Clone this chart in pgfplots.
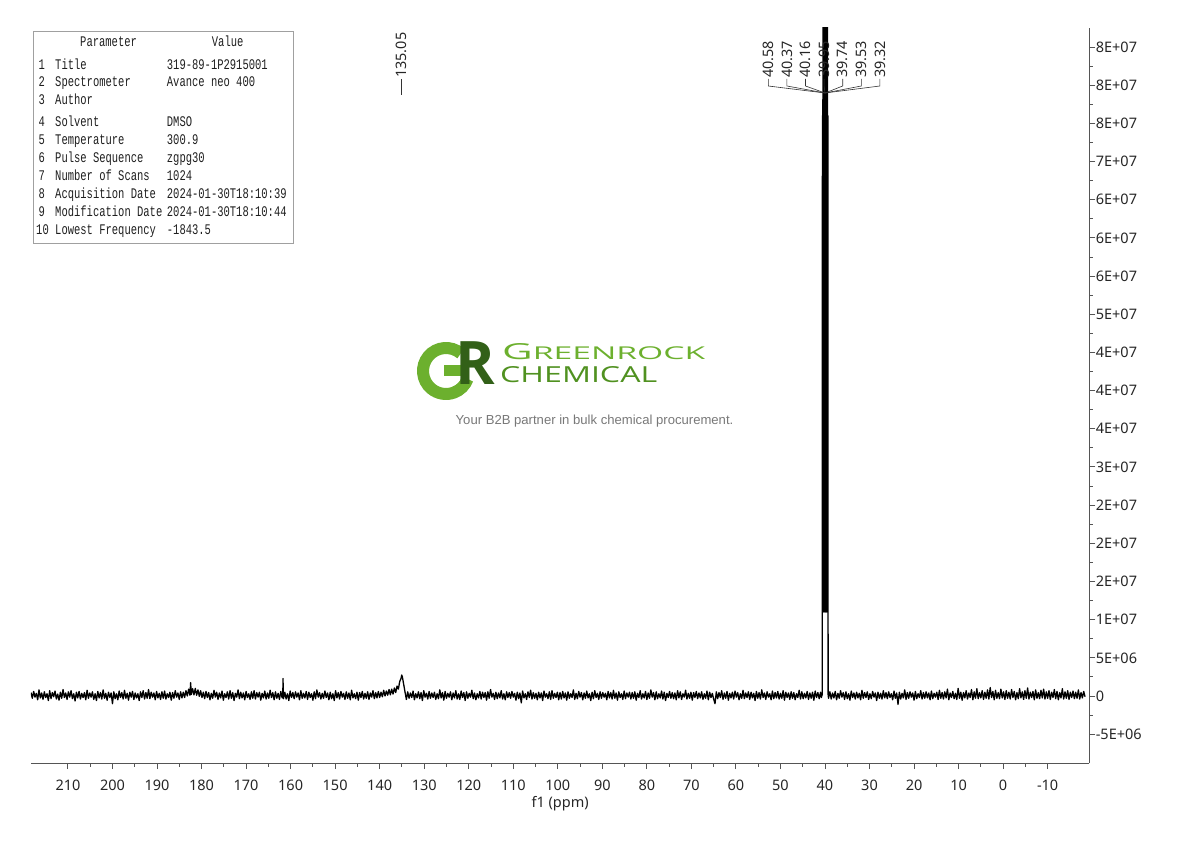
\documentclass[border=0pt]{standalone}
\usepackage{fontspec}
\setmainfont{Noto Sans}
\newfontfamily\tabfont{Liberation Mono}
\newfontfamily\logofont{Open Sans}
\newfontfamily\tagfont{Liberation Sans}
\usepackage{graphicx}
\usepackage{pgfplots}
\pgfplotsset{compat=1.18}
\definecolor{axgray}{RGB}{85,85,85}
\definecolor{boxgray}{RGB}{160,160,160}
\definecolor{txtgray}{RGB}{30,30,30}
\definecolor{grlight}{RGB}{108,176,46}
\definecolor{grmid}{RGB}{80,145,32}
\definecolor{grdark}{RGB}{50,96,24}
\definecolor{taggray}{RGB}{120,120,120}
\newcommand\tb[1]{\scalebox{1}[1.4]{\tabfont\fontsize{10.5}{12}\selectfont #1}}
\newcommand\lab{\fontsize{14.4}{16}\selectfont}
\begin{document}
\begin{tikzpicture}
\path[use as bounding box] (0,0) rectangle (1190pt,841pt);
\begin{axis}[
  at={(31pt,78pt)}, anchor=south west,
  scale only axis, width=1058.3pt, height=735pt,
  x dir=reverse,
  xmin=-19.35, xmax=218.3,
  ymin=-8.775, ymax=87.49,
  axis x line=bottom, axis y line=right,
  axis line style={-, axgray, line width=1pt},
  tick align=outside,
  major tick length=6pt, minor tick length=3.5pt,
  tick style={axgray, line width=0.9pt},
  minor x tick num=1, minor y tick num=1,
  xtick={-10,0,10,...,210},
  xticklabels={-10,0,10,20,30,40,50,60,70,80,90,100,110,120,130,140,150,160,170,180,190,200,210},
  ytick={-5,0,5,...,85},
  yticklabels={-5E+06,0,5E+06,1E+07,2E+07,2E+07,2E+07,3E+07,4E+07,4E+07,4E+07,5E+07,6E+07,6E+07,6E+07,7E+07,8E+07,8E+07,8E+07},
  xticklabel style={font=\fontsize{14.5}{16}\selectfont, text=black!85, yshift=-7pt},
  yticklabel style={font=\fontsize{14.5}{16}\selectfont, text=black!85, xshift=-3pt},
  xlabel={f1 (ppm)},
  xlabel style={font=\fontsize{14.5}{16}\selectfont, text=black!85, yshift=1pt},
  clip=true,
]
\addplot[black, line width=1.3pt, line join=round] coordinates {
(218.3,.45)(218,-.3)(217.7,.6)(217.4,-.15)(217.1,.35)(216.8,-.5)(216.5,.8)(216.2,-.25)(215.9,.4)(215.6,-.45)
(215.3,.55)(215,-.2)(214.7,.3)(214.4,-.6)(214.1,.7)(213.8,-.35)(213.5,.45)(213.2,-.1)(212.9,.65)(212.6,-.4)
(212.3,.25)(212,-.55)(211.7,.5)(211.4,-.3)(211.1,.85)(210.8,-.2)(210.5,.4)(210.2,-.45)(209.9,.55)(209.6,-.15)
(209.3,.7)(209,-.35)(208.7,.3)(208.4,-.65)(208.1,.5)(207.8,-.25)(207.5,.6)(207.2,-.4)(206.9,.35)(206.6,-.2)
(206.3,.45)(206,-.5)(205.7,.75)(205.4,-.3)(205.1,.4)(204.8,-.15)(204.5,.55)(204.2,-.45)(203.9,.3)(203.6,-.6)
(203.3,.6)(203,-.25)(202.7,.45)(202.4,-.4)(202.1,.8)(201.8,-.3)(201.5,.35)(201.2,-.55)(200.9,.5)(200.6,-.2)
(200.3,.4)(200,-1.0)(199.7,.55)(199.4,-.35)(199.1,.3)(198.8,-.5)(198.5,.65)(198.2,-.2)(197.9,.45)(197.6,-.4)
(197.3,.75)(197,-.3)(196.7,.35)(196.4,-.55)(196.1,.5)(195.8,-.15)(195.5,.6)(195.2,-.45)(194.9,.4)(194.6,-.25)
(194.3,.3)(194,-.6)(193.7,.55)(193.4,-.2)(193.1,.7)(192.8,-.4)(192.5,.45)(192.2,-.3)(191.9,.85)(191.6,-.35)
(191.3,.5)(191,-.15)(190.7,.4)(190.4,-.5)(190.1,.6)(189.8,-.25)(189.5,.35)(189.2,-.45)(188.9,.55)(188.6,-.3)
(188.3,.65)(188,-.4)(187.7,.3)(187.4,-.2)(187.1,.5)(186.8,-.55)(186.5,.45)(186.2,-.3)(185.9,.7)(185.6,-.15)
(185.3,.4)(185,-.45)(184.7,.55)(184.4,-.25)(184.1,.5)(183.8,-.2)(183.5,.7)(183.2,0)(182.9,.9)(182.6,.1)
(182.45,1.75)(182.3,.2)(182,.95)(181.7,.15)(181.4,1.0)(181.1,.1)(180.8,.8)(180.5,-.05)(180.2,.7)(179.9,-.2)(179.6,.5)
(179.3,-.35)(179,.6)(178.7,-.2)(178.4,.45)(178.1,-.5)(177.8,.35)(177.5,-.3)(177.2,.75)(176.9,-.15)(176.6,.5)
(176.3,-.45)(176,.4)(175.7,-.25)(175.4,.65)(175.1,-.55)(174.8,.3)(174.5,-.2)(174.2,.55)(173.9,-.4)(173.6,.7)
(173.3,-.3)(173,.45)(172.7,-.6)(172.4,.35)(172.1,-.15)(171.8,.8)(171.5,-.35)(171.2,.5)(170.9,-.25)(170.6,.4)
(170.3,-.5)(170,.6)(169.7,-.2)(169.4,.3)(169.1,-.45)(168.8,.55)(168.5,-.3)(168.2,.7)(167.9,-.4)(167.6,.45)
(167.3,-.15)(167,.5)(166.7,-.55)(166.4,.35)(166.1,-.25)(165.8,.65)(165.5,-.4)(165.2,.4)(164.9,-.3)(164.6,.75)
(164.3,-.2)(164,.45)(163.7,-.5)(163.4,.55)(163.1,-.3)(162.8,.35)(162.5,-.45)(162.2,.6)(161.9,-.25)(161.75,.3)(161.7,2.3)(161.65,.2)(161.6,-.35)
(161.3,.5)(161,-.4)(160.7,.3)(160.4,-.6)(160.1,.65)(159.8,-.2)(159.5,.45)(159.2,-.35)(158.9,.55)(158.6,-.15)
(158.3,.4)(158,-.5)(157.7,.7)(157.4,-.3)(157.1,.35)(156.8,-.25)(156.5,.6)(156.2,-.45)(155.9,.5)(155.6,-.2)
(155.3,.3)(155,-.55)(154.7,.55)(154.4,-.35)(154.1,.8)(153.8,-.15)(153.5,.45)(153.2,-.4)(152.9,.35)(152.6,-.3)
(152.3,.65)(152,-.2)(151.7,.4)(151.4,-.5)(151.1,.5)(150.8,-.35)(150.5,.3)(150.2,-.6)(149.9,.7)(149.6,-.25)
(149.3,.45)(149,-.4)(148.7,.6)(148.4,-.15)(148.1,.35)(147.8,-.45)(147.5,.55)(147.2,-.3)(146.9,.4)(146.6,-.5)
(146.3,.75)(146,-.25)(145.7,.3)(145.4,-.35)(145.1,.5)(144.8,-.55)(144.5,.45)(144.2,-.2)(143.9,.6)(143.6,-.4)
(143.3,.35)(143,-.3)(142.7,.55)(142.4,-.45)(142.1,.4)(141.8,-.15)(141.5,.7)(141.2,-.35)(140.9,.45)(140.6,-.25)
(140.3,.6)(140,-.2)(139.7,.5)(139.4,-.1)(139.1,.75)(138.8,0)(138.5,.65)(138.2,.1)(137.9,.85)(137.6,.15)
(137.3,.9)(137,.25)(136.7,1.05)(136.4,.45)(136.1,1.3)(135.8,.9)(135.5,1.9)(135.2,2.3)(135.05,2.75)(134.9,2.5)(134.6,1.5)
(134.3,.5)(134,-.45)(133.7,.55)(133.4,-.3)(133.1,.4)(132.8,-.2)(132.5,.65)(132.2,-.5)(131.9,.3)(131.6,-.25)
(131.3,.55)(131,-.35)(130.7,.45)(130.4,-.6)(130.1,.7)(129.8,-.15)(129.5,.35)(129.2,-.4)(128.9,.6)(128.6,-.3)
(128.3,.4)(128,-.2)(127.7,.5)(127.4,-.45)(127.1,.3)(126.8,-.35)(126.5,.8)(126.2,-.25)(125.9,.45)(125.6,-.55)
(125.3,.6)(125,-.3)(124.7,.35)(124.4,-.15)(124.1,.55)(123.8,-.5)(123.5,.4)(123.2,-.25)(122.9,.7)(122.6,-.4)
(122.3,.3)(122,-.45)(121.7,.65)(121.4,-.2)(121.1,.45)(120.8,-.6)(120.5,.55)(120.2,-.3)(119.9,.35)(119.6,-.15)
(119.3,.75)(119,-.35)(118.7,.4)(118.4,-.5)(118.1,.3)(117.8,-.25)(117.5,.6)(117.2,-.4)(116.9,.5)(116.6,-.2)
(116.3,.45)(116,-.55)(115.7,.55)(115.4,-.3)(115.1,.85)(114.8,-.15)(114.5,.35)(114.2,-.45)(113.9,.5)(113.6,-.35)
(113.3,.4)(113,-.25)(112.7,.7)(112.4,-.4)(112.1,.3)(111.8,-.5)(111.5,.55)(111.2,-.2)(110.9,.45)(110.6,-.3)
(110.3,.6)(110,-.15)(109.7,.35)(109.4,-.55)(109.1,.5)(108.8,-.35)(108.5,.4)(108.2,-.9)(107.9,.65)(107.6,-.25)
(107.3,.3)(107,-.45)(106.7,.55)(106.4,-.2)(106.1,.75)(105.8,-.4)(105.5,.45)(105.2,-.3)(104.9,.35)(104.6,-.5)
(104.3,.5)(104,-.25)(103.7,.4)(103.4,-.6)(103.1,.65)(102.8,-.15)(102.5,.3)(102.2,-.35)(101.9,.55)(101.6,-.45)
(101.3,.7)(101,-.3)(100.7,.35)(100.4,-.2)(100.1,.5)(99.8,-.5)(99.5,.45)(99.2,-.4)(98.9,.6)(98.6,-.25)
(98.3,.4)(98,-.55)(97.7,.55)(97.4,-.3)(97.1,.3)(96.8,-.2)(96.5,.8)(96.2,-.45)(95.9,.35)(95.6,-.35)
(95.3,.6)(95,-.15)(94.7,.45)(94.4,-.5)(94.1,.4)(93.8,-.3)(93.5,.65)(93.2,-.25)(92.9,.3)(92.6,-.6)
(92.3,.5)(92,-.35)(91.7,.7)(91.4,-.2)(91.1,.35)(90.8,-.45)(90.5,.55)(90.2,-.3)(89.9,.45)(89.6,-.15)
(89.3,.35)(89,-.5)(88.7,.6)(88.4,-.25)(88.1,.45)(87.8,-.4)(87.5,.75)(87.2,-.3)(86.9,.4)(86.6,-.55)
(86.3,.55)(86,-.2)(85.7,.3)(85.4,-.45)(85.1,.65)(84.8,-.35)(84.5,.4)(84.2,-.15)(83.9,.5)(83.6,-.4)
(83.3,.45)(83,-.3)(82.7,.55)(82.4,-.55)(82.1,.35)(81.8,-.2)(81.5,.7)(81.2,-.4)(80.9,.3)(80.6,-.25)
(80.3,.6)(80,-.45)(79.7,.4)(79.4,-.3)(79.1,.8)(78.8,-.15)(78.5,.45)(78.2,-.5)(77.9,.55)(77.6,-.35)
(77.3,.3)(77,-.25)(76.7,.65)(76.4,-.4)(76.1,.5)(75.8,-.6)(75.5,.35)(75.2,-.2)(74.9,.6)(74.6,-.3)
(74.3,.45)(74,-.35)(73.7,.4)(73.4,-.5)(73.1,.7)(72.8,-.25)(72.5,.55)(72.2,-.45)(71.9,.3)(71.6,-.15)
(71.3,.75)(71,-.4)(70.7,.35)(70.4,-.3)(70.1,.5)(69.8,-.55)(69.5,.45)(69.2,-.2)(68.9,.6)(68.6,-.35)
(68.3,.4)(68,-.25)(67.7,.55)(67.4,-.45)(67.1,.3)(66.8,-.3)(66.5,.65)(66.2,-.5)(65.9,.5)(65.6,-.2)
(65.3,.35)(65,-.4)(64.7,-1.0)(64.4,.55)(64.1,-.35)(63.8,.45)(63.5,-.2)(63.2,.7)(62.9,-.45)(62.6,.4)
(62.3,-.3)(62,.6)(61.7,-.55)(61.4,.35)(61.1,-.25)(60.8,.5)(60.5,-.4)(60.2,.65)(59.9,-.15)(59.6,.45)
(59.3,-.5)(59,.3)(58.7,-.3)(58.4,.75)(58.1,-.35)(57.8,.4)(57.5,-.2)(57.2,.55)(56.9,-.45)(56.6,.5)
(56.3,-.25)(56,.35)(55.7,-.6)(55.4,.6)(55.1,-.3)(54.8,.45)(54.5,-.4)(54.2,.8)(53.9,-.2)(53.6,.4)
(53.3,-.45)(53,.55)(52.7,-.15)(52.4,.3)(52.1,-.5)(51.8,.65)(51.5,-.35)(51.2,.45)(50.9,-.25)(50.6,.6)
(50.3,-.4)(50,.35)(49.7,-.3)(49.4,.7)(49.1,-.55)(48.8,.5)(48.5,-.2)(48.2,.4)(47.9,-.45)(47.6,.55)
(47.3,-.3)(47,.45)(46.7,-.5)(46.4,.3)(46.1,-.2)(45.8,.75)(45.5,-.4)(45.2,.55)(44.9,-.35)(44.6,.35)
(44.3,-.25)(44,.6)(43.7,-.45)(43.4,.4)(43.1,-.3)(42.8,.5)(42.5,-.55)(42.2,.65)(41.9,-.2)(41.6,.45)
(41.3,-.35)(41,.5)(40.8,-.2)(40.64,.3)(40.6,.1)
(40.58,76)(40.5,11)(40.37,300)(40.28,11)(40.16,600)(40.06,11)(39.95,700)(39.85,11)(39.74,600)(39.63,11)(39.53,300)(39.42,11)(39.32,76)
(39.3,.2)(39.2,-.3)(38.9,.55)(38.6,-.4)
(38.3,.4)(38,-.25)(37.7,.6)(37.4,-.5)(37.1,.35)(36.8,-.3)(36.5,.7)(36.2,-.15)(35.9,.45)(35.6,-.45)
(35.3,.55)(35,-.35)(34.7,.3)(34.4,-.55)(34.1,.65)(33.8,-.2)(33.5,.4)(33.2,-.4)(32.9,.5)(32.6,-.25)
(32.3,.35)(32,-.5)(31.7,.75)(31.4,-.3)(31.1,.45)(30.8,-.2)(30.5,.55)(30.2,-.45)(29.9,.3)(29.6,-.35)
(29.3,.6)(29,-.15)(28.7,.4)(28.4,-.6)(28.1,.5)(27.8,-.3)(27.5,.35)(27.2,-.4)(26.9,.7)(26.6,-.25)
(26.3,.45)(26,-.35)(25.7,.55)(25.4,-.2)(25.1,.3)(24.8,-.5)(24.5,.65)(24.2,-.3)(23.9,.4)(23.6,-1.1)
(23.3,.5)(23,-.4)(22.7,.35)(22.4,-.25)(22.1,.8)(21.8,-.45)(21.5,.45)(21.2,-.3)(20.9,.55)(20.6,-.15)
(20.3,.4)(20,-.55)(19.7,.6)(19.4,-.35)(19.1,.3)(18.8,-.2)(18.5,.7)(18.2,-.4)(17.9,.45)(17.6,-.3)
(17.3,.55)(17,-.25)(16.7,.4)(16.4,-.5)(16.1,.65)(15.8,-.35)(15.5,.35)(15.2,-.15)(14.9,.5)(14.6,-.45)
(14.3,.75)(14,-.3)(13.7,.45)(13.4,-.4)(13.1,.55)(12.8,-.25)(12.5,.9)(12.2,-.5)(11.9,.4)(11.6,-.2)
(11.3,.6)(11,-.35)(10.7,.35)(10.4,-.45)(10.1,1.0)(9.8,-.3)(9.5,.5)(9.2,-.55)(8.9,.45)(8.6,-.25)
(8.3,.7)(8,-.4)(7.7,.4)(7.4,-.2)(7.1,.85)(6.8,-.5)(6.5,.55)(6.2,-.3)(5.9,.95)(5.6,-.35)
(5.3,.45)(5,-.25)(4.7,.7)(4.4,-.45)(4.1,.5)(3.8,-.3)(3.5,.8)(3.2,-.4)(2.9,1.1)(2.6,-.2)
(2.3,.6)(2,-.5)(1.7,.75)(1.4,-.3)(1.1,.45)(.8,-.35)(.5,.9)(.2,-.25)(-.1,.55)(-.4,-.45)
(-.7,.7)(-1,-.3)(-1.3,.5)(-1.6,-.4)(-1.9,.85)(-2.2,-.2)(-2.5,.6)(-2.8,-.5)(-3.1,.45)(-3.4,-.35)
(-3.7,.95)(-4,-.25)(-4.3,.55)(-4.6,-.45)(-4.9,.7)(-5.2,-.3)(-5.5,1.05)(-5.8,-.4)(-6.1,.5)(-6.4,-.2)
(-6.7,.6)(-7,-.5)(-7.3,.8)(-7.6,-.3)(-7.9,.45)(-8.2,-.35)(-8.5,.75)(-8.8,-.25)(-9.1,.9)(-9.4,-.4)
(-9.7,.55)(-10,-.3)(-10.3,.7)(-10.6,-.45)(-10.9,.5)(-11.2,-.2)(-11.5,.85)(-11.8,-.35)(-12.1,.6)(-12.4,-.5)
(-12.7,.45)(-13,-.25)(-13.3,.95)(-13.6,-.4)(-13.9,.55)(-14.2,-.3)(-14.5,.7)(-14.8,-.45)(-15.1,.5)(-15.4,-.2)
(-15.7,.65)(-16,-.35)(-16.3,.5)(-16.6,-.3)(-16.9,.8)(-17.2,-.4)(-17.5,.45)(-17.8,-.25)(-18.1,.6)(-18.4,-.1)
};
\end{axis}
% ---------- overlays in pixel coordinates (y measured from top) ----------
\begin{scope}[x=1pt,y=-1pt,yshift=841pt]
  % parameter table
  \draw[boxgray, line width=1pt] (33.3,32) rectangle (293.3,244);
  \begin{scope}[every node/.style={anchor=base west, inner sep=0pt, text=txtgray}]
    \node at (80,47) {\tb{Parameter}};
    \node at (211.7,47) {\tb{Value}};
    \node at (38.3,70) {\tb{1}};  \node at (55,70) {\tb{Title}};             \node at (166.7,70) {\tb{319-89-1P2915001}};
    \node at (38.3,87) {\tb{2}};  \node at (55,87) {\tb{Spectrometer}};      \node at (166.7,87) {\tb{Avance neo 400}};
    \node at (38.3,105) {\tb{3}}; \node at (55,105) {\tb{Author}};
    \node at (38.3,127) {\tb{4}}; \node at (55,127) {\tb{Solvent}};          \node at (166.7,127) {\tb{DMSO}};
    \node at (38.3,145) {\tb{5}}; \node at (55,145) {\tb{Temperature}};      \node at (166.7,145) {\tb{300.9}};
    \node at (38.3,163) {\tb{6}}; \node at (55,163) {\tb{Pulse Sequence}};   \node at (166.7,163) {\tb{zgpg30}};
    \node at (38.3,181) {\tb{7}}; \node at (55,181) {\tb{Number of Scans}};  \node at (166.7,181) {\tb{1024}};
    \node at (38.3,199) {\tb{8}}; \node at (55,199) {\tb{Acquisition Date}}; \node at (166.7,199) {\tb{2024-01-30T18:10:39}};
    \node at (38.3,217) {\tb{9}}; \node at (55,217) {\tb{Modification Date}};\node at (166.7,217) {\tb{2024-01-30T18:10:44}};
    \node at (36,235) {\tb{10}};  \node at (55,235) {\tb{Lowest Frequency}}; \node at (166.7,235) {\tb{-1843.5}};
  \end{scope}
  % peak labels
  \node[rotate=90, anchor=west, inner sep=0pt, text=black!85, font=\lab] at (401.7,78) {135.05};
  \draw[black!80, line width=0.7pt] (401.7,79) -- (401.7,95);
  \foreach \xx/\tt in {768.3/40.58, 786.9/40.37, 805.5/40.16, 824.1/39.95, 842.7/39.74, 861.3/39.53, 879.9/39.32}{
    \node[rotate=90, anchor=west, inner sep=0pt, text=black!85, font=\lab] at (\xx,78) {\tt};
    \draw[black!80, line width=0.6pt] (\xx,79) -- (\xx,86) -- (825,93);
  }
\end{scope}
% ---------- watermark logo ----------
\draw[grlight, line width=12pt] (446pt,470pt) ++(50:23pt) arc[start angle=50, end angle=340, radius=23pt];
\fill[grlight] (444pt,465pt) rectangle (468pt,476pt);
\node[anchor=base west, inner sep=0pt, text=grdark] at (455pt,456pt) {\logofont\bfseries\fontsize{60}{60}\selectfont R};
\node[anchor=base west, inner sep=0pt, text=grlight] at (502pt,481pt) {\resizebox{203pt}{16pt}{\logofont\fontsize{20}{20}\selectfont G\fontsize{16}{16}\selectfont REENROCK}};
\node[anchor=base west, inner sep=0pt, text=grmid] at (500pt,458pt) {\resizebox{157pt}{16pt}{\logofont\fontsize{16}{16}\selectfont CHEMICAL}};
\node[inner sep=0pt, text=taggray] at (594.5pt,420pt) {\tagfont\fontsize{13.1}{15}\selectfont Your B2B partner in bulk chemical procurement.};
\end{tikzpicture}
\end{document}
